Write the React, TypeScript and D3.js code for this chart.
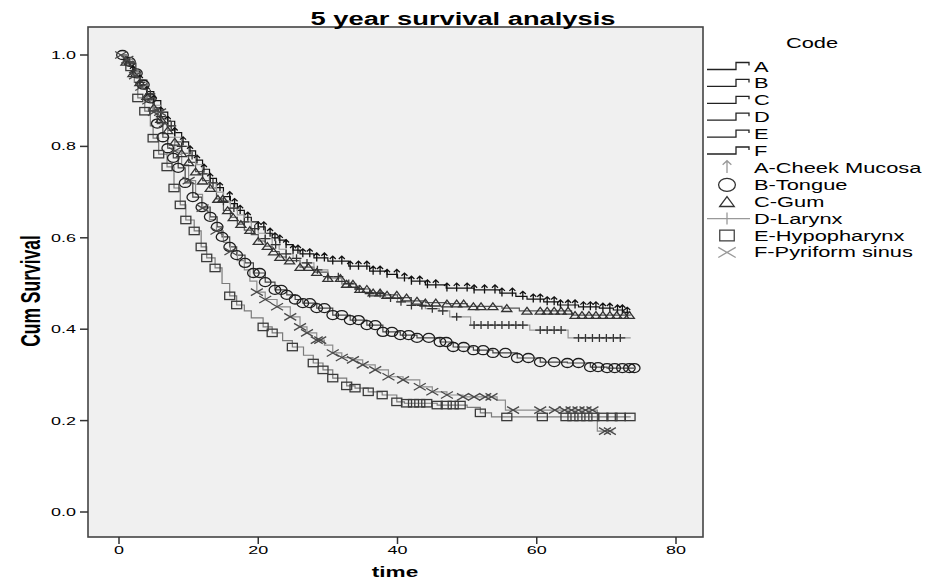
import React from 'react';
import * as d3 from 'd3';

const W = 928;
const H = 581;
const SX = 1.56; // horizontal stretch of the original figure

const titleText = '5 year survival analysis';
const xLabel = 'time';
const yLabel = 'Cum Survival';
const legendTitle = 'Code';

const xTicks = [0, 20, 40, 60, 80];
const yTicks = [0, 0.2, 0.4, 0.6, 0.8, 1.0];

const groupCodes = ['A', 'B', 'C', 'D', 'E', 'F'];
const groupNames = ['A-Cheek Mucosa', 'B-Tongue', 'C-Gum', 'D-Larynx', 'E-Hypopharynx', 'F-Pyriform sinus'];

// A - Cheek Mucosa
const aTimes = [0,1,2,3,4,5,6,7,8,9,10,11,12,13,14,15,16,17,18,19,20,21,22,23,24,25,26,28,30,33,36,38.5,40,42,44,47,51,54.7,57,58.6,61,63,66,69,71,72.5];
const aSurv = [1,0.985,0.965,0.945,0.92,0.9,0.875,0.855,0.83,0.81,0.79,0.77,0.75,0.73,0.71,0.69,0.675,0.66,0.645,0.635,0.624,0.61,0.6,0.595,0.585,0.573,0.565,0.556,0.549,0.538,0.527,0.52,0.512,0.505,0.497,0.49,0.486,0.479,0.472,0.466,0.46,0.453,0.449,0.446,0.442,0.437];
const aEnd = 73.5;
const aCensor = [1,2,3,4,5,6,7,8,9.2,10.2,11.2,12.2,13.1,14.5,15.9,16.6,17.4,18.5,20,20.8,21.7,22.4,23.1,24,25,25.7,26.4,27.4,28.4,29.5,30.7,32,33.2,34.4,35.6,36.5,37.5,38.5,39.9,41,42,43.2,44.3,45.5,47.1,48.5,50,51,52.5,54,55,56.5,58,59.5,60.5,61.5,62.5,63.4,64.5,65.5,66.7,67.7,68.5,69.5,70.5,71.6,72.3,73];

// B - Tongue
const bTimes = [0,1,2,3,4,4.9,5.5,6.3,7,7.8,8.5,9.5,10.6,11.9,13.1,14.1,14.8,15.9,16.9,18.1,19.3,21,22.4,24.1,25.3,26.4,28.4,30.7,33.2,35.6,37.9,40.4,42.8,46.1,48,50.9,53.7,57.2,60.5,64.4,67.7,70.1];
const bSurv = [1,0.985,0.96,0.935,0.905,0.88,0.85,0.82,0.796,0.775,0.753,0.72,0.689,0.667,0.646,0.624,0.602,0.58,0.562,0.545,0.523,0.503,0.486,0.475,0.465,0.457,0.446,0.431,0.42,0.409,0.394,0.387,0.381,0.372,0.361,0.354,0.348,0.337,0.328,0.326,0.317,0.315];
const bEnd = 74;
const bCensor = [0.5,1.5,2.5,3.5,4.5,5.5,6.3,7,7.8,8.5,9.5,10.6,11.9,13.1,14.1,14.8,15.9,16.9,18.1,19.3,20.2,21,22.4,23.3,24.1,25.3,26.4,27.4,28.4,29.5,30.7,32,33.2,34.4,35.6,36.8,37.9,39.2,40.4,41.6,42.8,44.5,46.1,47,48,49.5,50.9,52.3,53.7,55.5,57.2,58.8,60.5,62.5,64.4,66,67.7,68.8,70.1,71.2,72.3,73.3,74];

// C - Gum
const cTimes = [0,1,2,3,4,5,6,7,8,9,10,11,12,13,14,15,16,17,18,19,20,21,22,23,24,26,28,30,32,34,36,38,40,42,44,47,50,55,57.5,65];
const cSurv = [1,0.985,0.96,0.94,0.91,0.885,0.86,0.835,0.81,0.785,0.765,0.745,0.725,0.709,0.685,0.66,0.645,0.63,0.617,0.607,0.593,0.582,0.57,0.558,0.55,0.536,0.525,0.512,0.499,0.488,0.48,0.475,0.469,0.462,0.458,0.456,0.45,0.446,0.44,0.431];
const cEnd = 73.5;
const cCensor = [1,2,3,4,5,6,7,8,9,10,11,12,13.1,14.2,14.9,15.6,16.4,17.5,18.8,20,21.3,22.2,23.1,24.5,26,27.2,28.4,30,31.8,32.7,33.6,34.6,35.6,36.5,37.5,38.5,39.9,41.3,42.8,44,45.5,47.1,48.5,49.5,50.9,52,53.7,55.7,58.6,60.5,61.5,62.5,63.5,64.5,65.5,66.5,67.5,68.5,69.5,70.5,71.5,72.5,73.3];

// D - Larynx
const dTimes = [0,1,2,3,4,5,6,7,8,9,10,11,12,13,14,15,16,17,18,19,20,21,22,23,24,25,26,28,30,32,34,36,38,40,42,44,46,47.5,50.5,59,64.5];
const dSurv = [1,0.985,0.96,0.94,0.915,0.89,0.865,0.845,0.82,0.8,0.78,0.76,0.74,0.72,0.7,0.68,0.665,0.65,0.635,0.62,0.61,0.598,0.585,0.575,0.565,0.555,0.545,0.53,0.515,0.5,0.488,0.478,0.468,0.46,0.452,0.445,0.44,0.427,0.409,0.398,0.381];
const dEnd = 73.5;
const dCensor = [1.5,3,4.5,6,7.5,9,10.5,12,13.5,15,16.5,18,19.5,21,22.5,24,25.5,27,28.5,30,31.5,33,34.5,36,37.5,39,40.5,42,43.5,45,46.5,48.5,51,52,53,54,55,56,57,58,60.5,61.5,62.5,63.5,66,67,68,69,70,71,72];

// E - Hypopharynx
const eTimes = [0,1,1.7,2.2,2.7,3.7,4.5,4.9,5.7,6.9,7.9,8.8,9.6,10.8,11.8,12.6,13.8,14.8,15.9,16.9,18,19,20.7,22,23.5,24.9,26.5,27.9,29.3,30.7,32.7,33.9,35.8,37.8,39.9,41,45.7,50,51.9,53.5];
const eSurv = [1,0.985,0.974,0.94,0.906,0.877,0.845,0.818,0.783,0.755,0.709,0.672,0.639,0.615,0.58,0.556,0.534,0.5,0.473,0.453,0.44,0.425,0.405,0.392,0.375,0.361,0.343,0.326,0.311,0.293,0.276,0.271,0.263,0.256,0.241,0.238,0.234,0.229,0.217,0.208];
const eEnd = 73.5;
const eCensor = [1.7,2.7,3.7,4.9,5.7,6.9,7.9,8.8,9.6,10.8,11.8,12.6,13.8,15.9,16.9,20.7,22,24.9,27.9,29.3,30.7,32.7,33.9,35.8,37.8,39.9,41.3,42.3,43.2,44.2,45.7,47,48,49,51.9,55.7,60.8,64.2,65.2,66.2,67.2,68.2,69.5,70.8,72,73.4];

// F - Pyriform sinus
const fTimes = [0,1,2,3,4,5,6,7,8,9,10,11,12,13,14,15,16,17,18,18.8,19.8,21,22.7,24.6,26,27,28.4,29.5,30.7,32,33.6,35,36.8,38.7,40.8,43.2,45,47.1,49.4,54.3,55.5,68.7];
const fSurv = [1,0.99,0.955,0.93,0.9,0.875,0.85,0.82,0.79,0.76,0.725,0.695,0.665,0.64,0.615,0.59,0.57,0.55,0.53,0.505,0.481,0.465,0.449,0.427,0.405,0.392,0.376,0.365,0.348,0.338,0.333,0.322,0.311,0.296,0.289,0.274,0.263,0.256,0.252,0.245,0.223,0.177];
const fEnd = 71;
const fCensor = [0.3,1.2,2.3,3.2,4.2,5,5.9,6.6,8,10,12,14,16,19.8,21,22.7,24.6,26,27,28.4,28.9,30.7,32,33.6,35,36.8,38.7,40.8,43.2,45,47.1,49.4,51,52.6,53.5,56.6,60.5,62.6,64,65,66,67,68,69.8,70.5];

type Kind = 'arrow' | 'circle' | 'triangle' | 'plus' | 'square' | 'x';

const series = [
  { times: aTimes, surv: aSurv, end: aEnd, censor: aCensor, kind: 'arrow' as Kind, line: '#111', mark: '#111' },
  { times: bTimes, surv: bSurv, end: bEnd, censor: bCensor, kind: 'circle' as Kind, line: '#444', mark: '#1e1e1e' },
  { times: cTimes, surv: cSurv, end: cEnd, censor: cCensor, kind: 'triangle' as Kind, line: '#555', mark: '#333' },
  { times: dTimes, surv: dSurv, end: dEnd, censor: dCensor, kind: 'plus' as Kind, line: '#999', mark: '#333' },
  { times: eTimes, surv: eSurv, end: eEnd, censor: eCensor, kind: 'square' as Kind, line: '#7a7a7a', mark: '#3a3a3a' },
  { times: fTimes, surv: fSurv, end: fEnd, censor: fCensor, kind: 'x' as Kind, line: '#8c8c8c', mark: '#4a4a4a' },
];

const legendMarkColors = ['#999', '#333', '#333', '#999', '#444', '#999'];

const FONT = '"Liberation Sans", Arial, sans-serif';

function Marker({ kind, x, y, s, color, w }: { kind: Kind; x: number; y: number; s: number; color: string; w: number }) {
  const common = { fill: 'none', stroke: color, strokeWidth: w };
  switch (kind) {
    case 'circle':
      return <ellipse cx={x} cy={y} rx={5.8 * s} ry={4.5 * s} {...common} />;
    case 'square':
      return <rect x={x - 5 * s} y={y - 3.7 * s} width={10 * s} height={7.4 * s} {...common} />;
    case 'triangle':
      return <path d={`M${x - 5 * s},${y + 3.3 * s}L${x},${y - 3.5 * s}L${x + 5 * s},${y + 3.3 * s}Z`} {...common} />;
    case 'plus':
      return <path d={`M${x - 5 * s},${y}H${x + 5 * s}M${x},${y - 4 * s}V${y + 4 * s}`} {...common} />;
    case 'x':
      return <path d={`M${x - 6 * s},${y - 3.5 * s}L${x + 6 * s},${y + 3.5 * s}M${x - 6 * s},${y + 3.5 * s}L${x + 6 * s},${y - 3.5 * s}`} {...common} />;
    case 'arrow':
    default:
      return <path d={`M${x},${y + 3.5 * s}V${y - 5 * s}M${x - 3 * s},${y - 2.2 * s}L${x},${y - 5 * s}L${x + 3 * s},${y - 2.2 * s}`} {...common} />;
  }
}

function SText({ x, y, children, size, bold, anchor }: { x: number; y: number; children: React.ReactNode; size: number; bold?: boolean; anchor?: string }) {
  return (
    <text
      transform={`translate(${x},${y}) scale(${SX},1)`}
      fontFamily={FONT}
      fontSize={size}
      fontWeight={bold ? 'bold' : 'normal'}
      textAnchor={anchor || 'start'}
      fill="#000"
    >
      {children}
    </text>
  );
}

export default function App() {
  const left = 88, right = 703, top = 27, bottom = 537;
  const x = d3.scaleLinear().domain([0, 80]).range([119, 676]);
  const y = d3.scaleLinear().domain([0, 1]).range([512, 55]);

  const line = d3
    .line<[number, number]>()
    .x((d) => x(d[0]))
    .y((d) => y(d[1]))
    .curve(d3.curveStepAfter);

  const survAt = (times: number[], surv: number[], t: number) => {
    const i = d3.bisectRight(times, t) - 1;
    return surv[Math.max(0, i)];
  };

  const legendY0 = 66.5;
  const legendStep = 16.9;

  return (
    <svg width={W} height={H} style={{ position: 'absolute', left: 0, top: 0, background: '#fff' }}>
      <rect x={left} y={top} width={right - left} height={bottom - top} fill="#f0f0f0" stroke="#444" strokeWidth={1.6} />

      {/* title */}
      <SText x={463} y={25} size={17.5} bold anchor="middle">{titleText}</SText>

      {/* y axis */}
      {yTicks.map((t) => (
        <g key={'y' + t}>
          <line x1={80} x2={left} y1={y(t)} y2={y(t)} stroke="#333" strokeWidth={1.5} />
          <SText x={76} y={y(t) + 4} size={11.5} anchor="end">{t.toFixed(1)}</SText>
        </g>
      ))}
      <text
        transform={`translate(40,291) scale(${SX},1) rotate(-90)`}
        fontFamily={FONT}
        fontSize={17.5}
        fontWeight="bold"
        textAnchor="middle"
        fill="#000"
      >
        {yLabel}
      </text>

      {/* x axis */}
      {xTicks.map((t) => (
        <g key={'x' + t}>
          <line x1={x(t)} x2={x(t)} y1={bottom} y2={bottom + 7} stroke="#333" strokeWidth={1.5} />
          <SText x={x(t)} y={554} size={11.5} anchor="middle">{String(t)}</SText>
        </g>
      ))}
      <SText x={395} y={577} size={14.5} bold anchor="middle">{xLabel}</SText>

      {/* curves */}
      {series.map((s, i) => {
        const pts: [number, number][] = s.times.map((t, j) => [t, s.surv[j]] as [number, number]);
        pts.push([s.end, s.surv[s.surv.length - 1]]);
        return <path key={'l' + i} d={line(pts) || ''} fill="none" stroke={s.line} strokeWidth={1.2} />;
      })}
      {series.map((s, i) => (
        <g key={'m' + i}>
          {s.censor.map((t, j) => (
            <Marker key={j} kind={s.kind} x={x(t)} y={y(survAt(s.times, s.surv, t))} s={1} color={s.mark} w={1.3} />
          ))}
        </g>
      ))}

      {/* legend */}
      <SText x={812} y={48} size={14} anchor="middle">{legendTitle}</SText>
      {groupCodes.map((c, i) => {
        const cy = legendY0 + i * legendStep;
        return (
          <g key={'lg' + c}>
            <path
              d={`M707,${cy + 3}H736V${cy - 4}H749V${cy - 1}`}
              fill="none"
              stroke="#222"
              strokeWidth={1.3}
            />
            <SText x={754} y={cy + 5} size={14}>{c}</SText>
          </g>
        );
      })}
      {groupNames.map((n, i) => {
        const cy = legendY0 + (i + 6) * legendStep;
        const s = series[i];
        return (
          <g key={'ln' + i}>
            {s.kind === 'plus' ? (
              <path d={`M707,${cy}H750M727,${cy - 6}V${cy + 6}`} fill="none" stroke="#999" strokeWidth={1.3} />
            ) : (
              <Marker kind={s.kind} x={727} y={cy} s={1.45} color={legendMarkColors[i]} w={1.3} />
            )}
            <SText x={754} y={cy + 5} size={14}>{n}</SText>
          </g>
        );
      })}
    </svg>
  );
}
